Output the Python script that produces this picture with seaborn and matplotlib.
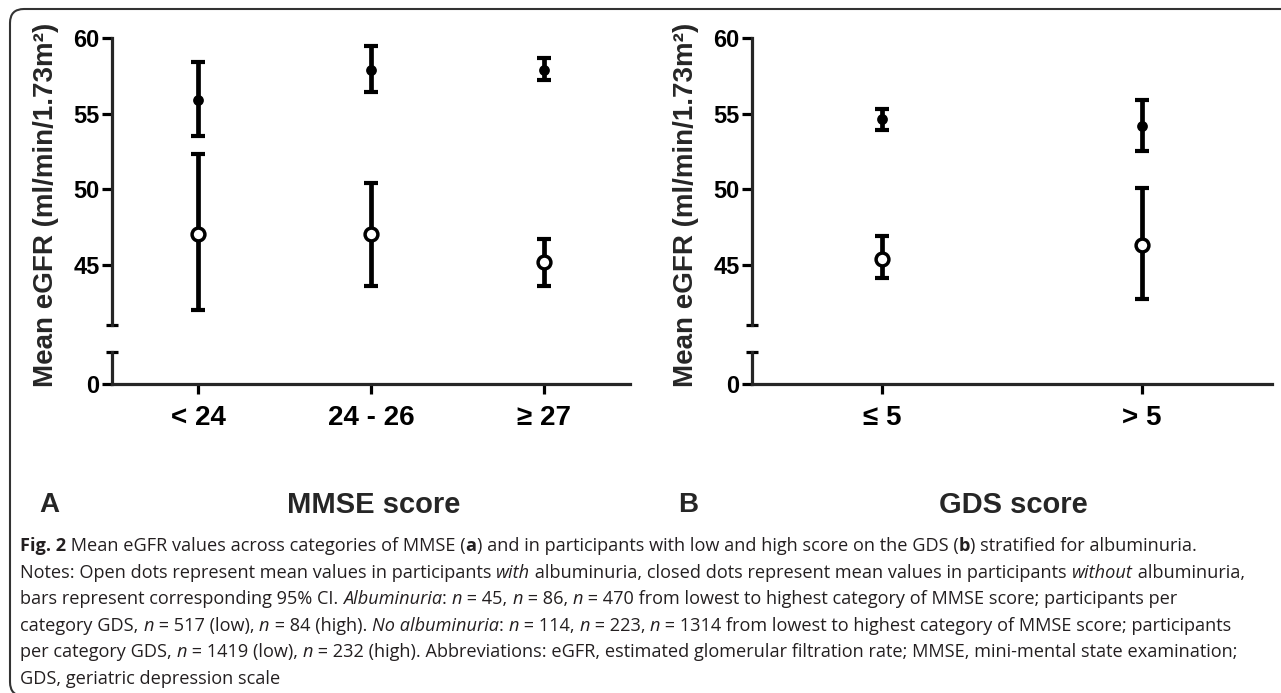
import numpy as np
import pandas as pd
import matplotlib
matplotlib.use("Agg")
import matplotlib.pyplot as plt
import matplotlib.patches as mpatches
import seaborn as sns

sns.set_style("ticks")
plt.rcParams['font.family'] = ['Liberation Sans', 'DejaVu Sans']

W, H = 1281, 693

# panel A: MMSE score categories
mmse_cats = ["< 24", "24 - 26", "\u2265 27"]
mmse_alb_mean = [47.05, 47.05, 45.2]
mmse_alb_lo = [42.0, 43.6, 43.6]
mmse_alb_hi = [52.3, 50.4, 46.7]
mmse_noalb_mean = [55.9, 57.9, 57.9]
mmse_noalb_lo = [53.5, 56.4, 57.2]
mmse_noalb_hi = [58.4, 59.5, 58.7]

# panel B: GDS score categories
gds_cats = ["\u2264 5", "> 5"]
gds_alb_mean = [45.4, 46.3]
gds_alb_lo = [44.1, 42.7]
gds_alb_hi = [46.9, 50.1]
gds_noalb_mean = [54.65, 54.2]
gds_noalb_lo = [53.9, 52.5]
gds_noalb_hi = [55.3, 55.9]

y_ticks_top = [45, 50, 55, 60]
ylabel = "Mean eGFR (ml/min/1.73m\u00b2)"

LW = 2.3


def px(x, y):
    return x / W, 1 - y / H


def draw_panel(x_left, x_right, cats, series, letter, title, letter_x, title_x):
    left, _ = px(x_left, 0)
    width = (x_right - x_left) / W
    # upper part of broken axis: 41..60
    b_top = 1 - 325 / H
    h_top = (325 - 38) / H
    ax_top = fig.add_axes([left, b_top, width, h_top])
    b_bot = 1 - 384 / H
    h_bot = (384 - 352) / H
    ax_bot = fig.add_axes([left, b_bot, width, h_bot])

    xs = np.arange(len(cats))
    for mean, lo, hi, filled in series:
        mean = np.array(mean)
        yerr = [mean - np.array(lo), np.array(hi) - mean]
        ax_top.errorbar(xs, mean, yerr=yerr, fmt='none', ecolor='black',
                        elinewidth=3.4, capsize=5, capthick=3.0, zorder=2)
        df = pd.DataFrame({'x': xs, 'y': mean})
        if filled:
            sns.scatterplot(data=df, x='x', y='y', ax=ax_top, s=60, color='black',
                            edgecolor='black', linewidth=0, zorder=3)
        else:
            sns.scatterplot(data=df, x='x', y='y', ax=ax_top, s=85, color='white',
                            edgecolor='black', linewidth=2.5, zorder=3)

    for ax in (ax_top, ax_bot):
        ax.set_xlim(-0.5, len(cats) - 0.5)
        ax.set_facecolor('none')
        ax.spines['top'].set_visible(False)
        ax.spines['right'].set_visible(False)
        ax.spines['left'].set_linewidth(LW)
        ax.spines['bottom'].set_linewidth(LW)
        ax.tick_params(width=LW, length=7, colors='black', pad=2)
        ax.set_xlabel('')
        ax.set_ylabel('')

    ax_top.set_ylim(41, 60)
    ax_top.spines['bottom'].set_visible(False)
    ax_top.set_xticks([])
    ax_top.set_yticks(y_ticks_top)
    ax_top.set_yticklabels([str(v) for v in y_ticks_top], fontsize=17, fontweight='bold')

    ax_bot.set_ylim(0, 1)
    ax_bot.set_yticks([0])
    ax_bot.set_yticklabels(['0'], fontsize=17, fontweight='bold')
    ax_bot.set_xticks(xs)
    ax_bot.set_xticklabels(cats, fontsize=20, fontweight='bold')
    ax_bot.tick_params(axis='x', pad=8)

    # caps at the axis break
    ax_top.plot([0], [0], marker='_', markersize=9, markeredgewidth=LW,
                color='black', transform=ax_top.transAxes, clip_on=False)
    ax_bot.plot([0], [1], marker='_', markersize=9, markeredgewidth=LW,
                color='black', transform=ax_bot.transAxes, clip_on=False)

    lx, ly = px(x_left - 66, 205)
    fig.text(lx, ly, ylabel, rotation=90, ha='center', va='center',
             fontsize=20, fontweight='bold')
    fig.text(*px(letter_x, 505), letter, ha='center', va='center',
             fontsize=20, fontweight='bold')
    fig.text(*px(title_x, 505), title, ha='center', va='center',
             fontsize=21, fontweight='bold')


fig = plt.figure(figsize=(W / 100, H / 100), dpi=100)

draw_panel(112, 630, mmse_cats,
           [(mmse_alb_mean, mmse_alb_lo, mmse_alb_hi, False),
            (mmse_noalb_mean, mmse_noalb_lo, mmse_noalb_hi, True)],
           "A", "MMSE score", 49, 374)
draw_panel(752, 1272, gds_cats,
           [(gds_alb_mean, gds_alb_lo, gds_alb_hi, False),
            (gds_noalb_mean, gds_noalb_lo, gds_noalb_hi, True)],
           "B", "GDS score", 688, 1013)

# rounded frame of the figure panel
frame = mpatches.FancyBboxPatch((10, -3), 1320, H - 9 + 3, boxstyle="round,pad=0,rounding_size=14",
                                transform=None, fill=False, edgecolor='#333333', linewidth=1.5)
fig.patches.append(frame)

# caption, drawn piece by piece to mix bold and italic
R, B, I = 'normal', 'bold', 'italic'
caption_lines = [
    [("Fig. 2", B), (" Mean eGFR values across categories of MMSE (", R), ("a", B),
     (") and in participants with low and high score on the GDS (", R), ("b", B),
     (") stratified for albuminuria.", R)],
    [("Notes: Open dots represent mean values in participants ", R), ("with", I),
     (" albuminuria, closed dots represent mean values in participants ", R), ("without", I),
     (" albuminuria,", R)],
    [("bars represent corresponding 95% CI. ", R), ("Albuminuria", I), (": ", R), ("n", I),
     (" = 45, ", R), ("n", I), (" = 86, ", R), ("n", I),
     (" = 470 from lowest to highest category of MMSE score; participants per", R)],
    [("category GDS, ", R), ("n", I), (" = 517 (low), ", R), ("n", I), (" = 84 (high). ", R),
     ("No albuminuria", I), (": ", R), ("n", I), (" = 114, ", R), ("n", I), (" = 223, ", R),
     ("n", I), (" = 1314 from lowest to highest category of MMSE score; participants", R)],
    [("per category GDS, ", R), ("n", I), (" = 1419 (low), ", R), ("n", I),
     (" = 232 (high). Abbreviations: eGFR, estimated glomerular filtration rate; MMSE, mini-mental state examination;", R)],
    [("GDS, geriatric depression scale", R)],
]
caption_y = [551, 578, 604, 631, 657, 684]
cap_font = ['Open Sans', 'DejaVu Sans']
renderer = fig.canvas.get_renderer()
inv = fig.transFigure.inverted()
for line, ypix in zip(caption_lines, caption_y):
    x = 20 / W
    for txt, style in line:
        kw = dict(fontsize=13.1, color='#231f20', family=cap_font, va='baseline', ha='left')
        if style == B:
            kw['fontweight'] = 'bold'
        elif style == I:
            kw['fontstyle'] = 'italic'
        t = fig.text(x, 1 - ypix / H, txt, **kw)
        bb = t.get_window_extent(renderer=renderer)
        x = inv.transform((bb.x1, bb.y0))[0]

fig.savefig("out.png", dpi=100)
